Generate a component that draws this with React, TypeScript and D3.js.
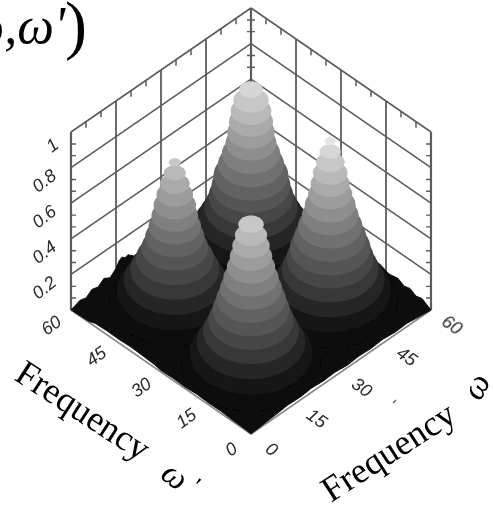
import React from "react";
import * as d3 from "d3";

// values
const freqTicks = [0, 15, 30, 45, 60];
const freqMinor = [5, 10, 20, 25, 35, 40, 50, 55];
const zTicks = [0, 0.2, 0.4, 0.6, 0.8, 1];
const zMinor = [0.067, 0.133, 0.267, 0.333, 0.467, 0.533, 0.667, 0.733, 0.867, 0.933];
const zLabels = ["0.2", "0.4", "0.6", "0.8", "1"];

// contour levels of the surface
const levels = [0.05, 0.11, 0.17, 0.23, 0.29, 0.35, 0.41, 0.47, 0.53, 0.59, 0.65, 0.71, 0.77, 0.83, 0.89, 0.95];

// contour radius (in frequency units) at each level, back to front
const backRadii = [15.5, 14, 12.4, 11, 10, 9.3, 8.8, 7.8, 6.9, 6, 5.6, 5.2, 4.8, 4.2, 2.8];
const leftRadii = [15.5, 13.7, 12, 10.5, 9.2, 7.9, 7, 6.2, 5.5, 5, 4.3, 3.5, 2.6, 1.4];
const rightRadii = [16, 14.3, 12.8, 11.4, 10.3, 9.5, 8.5, 7.6, 6.7, 6, 5.2, 4.6, 4.1, 3.4, 2.5, 1.3];
const frontRadii = [16.5, 14.5, 12.8, 11.3, 10.1, 9.1, 8.2, 7.3, 6.5, 5.7, 5, 4.4, 3.8, 3];

const peakW = [45, 17.3, 43.2, 15];
const peakWPrime = [45, 42.7, 16.8, 15];
const peakRadii = [backRadii, leftRadii, rightRadii, frontRadii];

// floor noise along the back edges
const backLeftG = [0, 3, 5, 7, 9, 11, 13, 15, 16, 17, 18, 19, 21, 24, 28];
const backLeftZ = [0, 0.02, 0.01, 0.035, 0.025, 0.05, 0.03, 0.06, 0.09, 0.1, 0.085, 0.09, 0.06, 0.07, 0.05];
const backRightF = [28, 24, 20, 17, 14, 11, 9, 7, 5, 3, 1, 0];
const backRightZ = [0.05, 0.06, 0.05, 0.06, 0.04, 0.05, 0.03, 0.04, 0.02, 0.03, 0.01, 0];

// floor edge along the front sides, lifted a little off the axis line
const frontLeftWp = [60, 54, 52, 48, 44, 40, 36, 32, 30, 26, 22, 18, 14, 10, 6, 2, 0];
const frontLeftZ = [0, 0.005, 0.018, 0.022, 0.02, 0.024, 0.02, 0.016, 0.008, 0.012, 0.008, 0.014, 0.01, 0.012, 0.006, 0.004, 0];
const frontRightW = [0, 4, 8, 12, 16, 20, 24, 28, 32, 36, 40, 44, 48, 52, 56, 60];
const frontRightZ = [0, 0.006, 0.012, 0.02, 0.018, 0.024, 0.018, 0.022, 0.014, 0.02, 0.016, 0.022, 0.014, 0.018, 0.008, 0];

const xScale = d3.scaleLinear().domain([-60, 60]).range([71, 431]);
const yScale = d3.scaleLinear().domain([0, 120]).range([434, 186]);
const zScale = d3.scaleLinear().domain([0, 1]).range([0, -178]);
const gray = d3.scaleLinear().domain([0.05, 0.2, 0.95]).range([7, 48, 228]);

const px = (w: number, wp: number) => xScale(w - wp);
const py = (w: number, wp: number, z = 0) => yScale(w + wp) + zScale(z);

const shade = (z: number) => {
  const v = Math.round(gray(z));
  return `rgb(${v},${v},${v})`;
};

const seg = (a: number[], b: number[]) =>
  `M${px(a[0], a[1])},${py(a[0], a[1], a[2])}L${px(b[0], b[1])},${py(b[0], b[1], b[2])}`;

function ringPath(w: number, wp: number, r: number, z: number) {
  const angles = d3.range(0, Math.PI * 2, Math.PI / 24);
  const ring = d3
    .line<number>()
    .x((a) => px(w + r * Math.cos(a), wp + r * Math.sin(a)))
    .y((a) => py(w + r * Math.cos(a), wp + r * Math.sin(a), z))
    .curve(d3.curveLinearClosed);
  return ring(angles) as string;
}

function floorPath() {
  const pts: [number, number][] = [];
  frontRightW.forEach((w, i) => pts.push([px(w, 0), py(w, 0, frontRightZ[i])]));
  backRightF
    .slice()
    .reverse()
    .forEach((f) => {
      const i = backRightF.indexOf(f);
      pts.push([px(60, f), py(60, f, backRightZ[i])]);
    });
  backLeftG
    .slice()
    .reverse()
    .forEach((g) => {
      const i = backLeftG.indexOf(g);
      pts.push([px(g, 60), py(g, 60, backLeftZ[i])]);
    });
  frontLeftWp.forEach((wp, i) => pts.push([px(0, wp), py(0, wp, frontLeftZ[i])]));
  return d3.line().curve(d3.curveLinearClosed)(pts) as string;
}

export default function App() {
  const walls = "#5c5c5c";
  const top = 1;
  return (
    <svg
      width={493}
      height={508}
      style={{ position: "absolute", left: 0, top: 0, background: "#fff" }}
    >
      <defs>
        <filter id="soft" x="-5%" y="-5%" width="110%" height="110%">
          <feGaussianBlur stdDeviation={0.6} />
        </filter>
      </defs>
      <g filter="url(#soft)">
        {/* back walls */}
        <g stroke={walls} fill="none" strokeWidth={1.6}>
          {zTicks.map((z) => (
            <path key={z} d={seg([0, 60, z], [60, 60, z]) + seg([60, 60, z], [60, 0, z])} />
          ))}
          {freqTicks.map((t) => (
            <path
              key={t}
              d={seg([t, 60, 0], [t, 60, top]) + seg([60, t, 0], [60, t, top])}
              strokeWidth={t === 0 || t === 60 ? 2.2 : 1.8}
            />
          ))}
          {freqMinor.map((t) => (
            <path
              key={t}
              strokeWidth={1.5}
              d={`M${px(t, 60)},${py(t, 60, top)}v6` + `M${px(60, t)},${py(60, t, top)}v6`}
            />
          ))}
          {zMinor.map((z) => (
            <path
              key={z}
              strokeWidth={1.4}
              d={
                `M${px(0, 60)},${py(0, 60, z)}h5` +
                `M${px(60, 0)},${py(60, 0, z)}h-5` +
                `M${px(60, 60) - 4},${py(60, 60, z)}h8`
              }
            />
          ))}
          <path d={seg([0, 0, 0], [0, 60, 0]) + seg([0, 0, 0], [60, 0, 0])} stroke="#8a8a8a" />
        </g>

        {/* surface */}
        <path d={floorPath()} fill="#080808" stroke="#080808" strokeWidth={0.8} />
        {peakRadii.map((radii, p) => (
          <g key={p}>
            {radii.map((r, i) => (
              <path
                key={i}
                d={ringPath(peakW[p], peakWPrime[p], r, levels[i])}
                fill={shade(levels[i])}
              />
            ))}
          </g>
        ))}

        {/* z axis labels */}
        <g fontFamily="Liberation Sans" fontStyle="italic" fontSize={18} fill="#2a2a2a" textAnchor="middle">
          {zLabels.map((l, i) => (
            <text
              key={l}
              transform={`translate(${l === "1" ? 52 : 44},${py(0, 60, zTicks[i + 1]) + 13}) rotate(-38)`}
              dy="0.35em"
            >
              {l}
            </text>
          ))}
          {freqTicks.map((t) => (
            <text
              key={t}
              transform={`translate(${px(0, t) - 20},${py(0, t) + 15}) rotate(-35)`}
              dy="0.35em"
            >
              {t}
            </text>
          ))}
          {freqTicks.map((t) => (
            <text
              key={t}
              transform={`translate(${px(t, 0) + 21},${py(t, 0) + 15}) rotate(35)`}
              dy="0.35em"
            >
              {t}
            </text>
          ))}
        </g>

        {/* titles */}
        <g fontFamily="Liberation Serif" fill="#000">
          <text transform="translate(13,379) rotate(33)" fontSize={36}>Frequency</text>
          <text transform="translate(159,477) rotate(38)" fontSize={34} fontStyle="italic">ω</text>
          <text transform="translate(188,491) rotate(38)" fontSize={26}>'</text>
          <text transform="translate(331,503) rotate(-33)" fontSize={36}>Frequency</text>
          <text transform="translate(480,402) rotate(-62)" fontSize={34} fontStyle="italic">ω</text>
          <text x={87} y={43} textAnchor="end" fontSize={52}>
            <tspan fontStyle="italic">ω,ω'</tspan>
            <tspan fontSize={66} dy={4}>)</tspan>
          </text>
        </g>
        <path d="M393,403l3,-3" stroke="#555" strokeWidth={1.2} />
      </g>
    </svg>
  );
}
